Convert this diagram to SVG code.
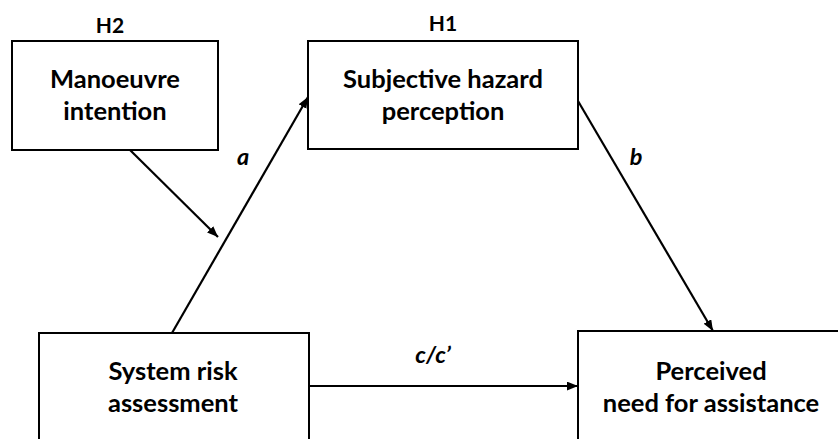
<svg xmlns="http://www.w3.org/2000/svg" width="838" height="439" viewBox="0 0 838 439">
<style>
.box{fill:#fff;stroke:#000;stroke-width:2}
.t{font-family:Lato,"Open Sans","Liberation Sans",sans-serif;font-weight:bold;font-size:25.5px;fill:#000;text-anchor:middle}
.h{font-family:Lato,"Open Sans","Liberation Sans",sans-serif;font-weight:bold;font-size:21px;fill:#000;text-anchor:middle}
.l{font-family:Lato,"Open Sans","Liberation Sans",sans-serif;font-weight:bold;font-style:italic;font-size:23.5px;fill:#000;text-anchor:middle}
.c{stroke:#000;stroke-width:2.2;fill:none;marker-end:url(#ah)}
</style>
<defs>
<marker id="ah" viewBox="0 0 10 8" refX="10" refY="4" markerWidth="11" markerHeight="9" markerUnits="userSpaceOnUse" orient="auto">
<path d="M0,0 L10,4 L0,8 z" fill="#000"/>
</marker>
</defs>
<rect width="838" height="439" fill="#fff"/>
<g id="connectors">
<line class="c" x1="172" y1="333" x2="308" y2="97"/>
<line class="c" x1="578" y1="101" x2="713" y2="331"/>
<line class="c" x1="309" y1="386" x2="578" y2="386"/>
<line class="c" x1="130" y1="150" x2="218" y2="237"/>
<text class="l" x="243" y="165">a</text>
<text class="l" x="636" y="165">b</text>
<text class="l" x="433" y="363">c/c’</text>
</g>
<g id="manoeuvre">
<text class="h" x="110" y="33">H2</text>
<rect class="box" x="12" y="41" width="206" height="109"/>
<text class="t" x="115" y="88">Manoeuvre</text>
<text class="t" x="115" y="120">intention</text>
</g>
<g id="subjective">
<text class="h" x="443" y="31">H1</text>
<rect class="box" x="308" y="41" width="270" height="108"/>
<text class="t" x="443" y="88">Subjective hazard</text>
<text class="t" x="443" y="120">perception</text>
</g>
<g id="system">
<rect class="box" x="39" y="333" width="270" height="120"/>
<text class="t" x="173" y="380">System risk</text>
<text class="t" x="173" y="412">assessment</text>
</g>
<g id="perceived">
<rect class="box" x="578" y="331" width="280" height="120"/>
<text class="t" x="711" y="380">Perceived</text>
<text class="t" x="711" y="412">need for assistance</text>
</g>
</svg>
